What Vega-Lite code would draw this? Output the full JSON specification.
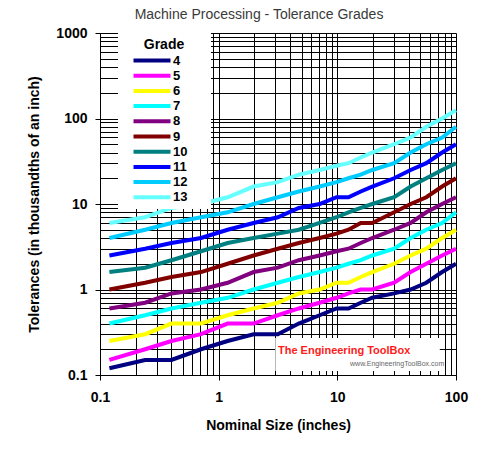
{
  "$schema": "https://vega.github.io/schema/vega-lite/v6.json",
  "width": 356,
  "height": 342,
  "autosize": {"type": "none"},
  "padding": {"left": 100, "top": 33, "right": 36, "bottom": 88},
  "background": "white",
  "title": {
    "text": "Machine Processing - Tolerance Grades",
    "font": "Liberation Sans",
    "fontSize": 14,
    "fontWeight": "normal",
    "color": "#3a3a3a",
    "anchor": "middle",
    "dx": -19,
    "offset": 4
  },
  "config": {
    "view": {"stroke": null},
    "font": "Liberation Sans",
    "axis": {
      "domainColor": "black",
      "domainWidth": 1,
      "tickColor": "black",
      "tickSize": 5,
      "tickWidth": 1,
      "gridColor": "black",
      "gridOpacity": 1,
      "gridWidth": 1,
      "labelFont": "Liberation Sans",
      "labelFontSize": 14,
      "labelFontWeight": "bold",
      "labelColor": "black",
      "labelFlush": false,
      "labelOverlap": false,
      "labelBound": false,
      "titleFont": "Liberation Sans",
      "titleFontSize": 14,
      "titleFontWeight": "bold",
      "titleColor": "black"
    }
  },
  "datasets": {
    "tolerances": [
      {"size": 0.12, "grade": 4, "tol": 0.12}, {"size": 0.24, "grade": 4, "tol": 0.15}, {"size": 0.4, "grade": 4, "tol": 0.15}, {"size": 0.71, "grade": 4, "tol": 0.2}, {"size": 1.19, "grade": 4, "tol": 0.25}, {"size": 1.97, "grade": 4, "tol": 0.3}, {"size": 3.15, "grade": 4, "tol": 0.3}, {"size": 4.73, "grade": 4, "tol": 0.4}, {"size": 7.09, "grade": 4, "tol": 0.5}, {"size": 9.85, "grade": 4, "tol": 0.6}, {"size": 12.41, "grade": 4, "tol": 0.6}, {"size": 15.75, "grade": 4, "tol": 0.7}, {"size": 19.69, "grade": 4, "tol": 0.8}, {"size": 30.09, "grade": 4, "tol": 0.9}, {"size": 41.49, "grade": 4, "tol": 1.0}, {"size": 56.19, "grade": 4, "tol": 1.2}, {"size": 76.39, "grade": 4, "tol": 1.6}, {"size": 100, "grade": 4, "tol": 2.0},
      {"size": 0.12, "grade": 5, "tol": 0.15}, {"size": 0.24, "grade": 5, "tol": 0.2}, {"size": 0.4, "grade": 5, "tol": 0.25}, {"size": 0.71, "grade": 5, "tol": 0.3}, {"size": 1.19, "grade": 5, "tol": 0.4}, {"size": 1.97, "grade": 5, "tol": 0.4}, {"size": 3.15, "grade": 5, "tol": 0.5}, {"size": 4.73, "grade": 5, "tol": 0.6}, {"size": 7.09, "grade": 5, "tol": 0.7}, {"size": 9.85, "grade": 5, "tol": 0.8}, {"size": 12.41, "grade": 5, "tol": 0.9}, {"size": 15.75, "grade": 5, "tol": 1.0}, {"size": 19.69, "grade": 5, "tol": 1.0}, {"size": 30.09, "grade": 5, "tol": 1.2}, {"size": 41.49, "grade": 5, "tol": 1.6}, {"size": 56.19, "grade": 5, "tol": 2.0}, {"size": 76.39, "grade": 5, "tol": 2.5}, {"size": 100, "grade": 5, "tol": 3.0},
      {"size": 0.12, "grade": 6, "tol": 0.25}, {"size": 0.24, "grade": 6, "tol": 0.3}, {"size": 0.4, "grade": 6, "tol": 0.4}, {"size": 0.71, "grade": 6, "tol": 0.4}, {"size": 1.19, "grade": 6, "tol": 0.5}, {"size": 1.97, "grade": 6, "tol": 0.6}, {"size": 3.15, "grade": 6, "tol": 0.7}, {"size": 4.73, "grade": 6, "tol": 0.9}, {"size": 7.09, "grade": 6, "tol": 1.0}, {"size": 9.85, "grade": 6, "tol": 1.2}, {"size": 12.41, "grade": 6, "tol": 1.2}, {"size": 15.75, "grade": 6, "tol": 1.4}, {"size": 19.69, "grade": 6, "tol": 1.6}, {"size": 30.09, "grade": 6, "tol": 2.0}, {"size": 41.49, "grade": 6, "tol": 2.5}, {"size": 56.19, "grade": 6, "tol": 3.0}, {"size": 76.39, "grade": 6, "tol": 4.0}, {"size": 100, "grade": 6, "tol": 5.0},
      {"size": 0.12, "grade": 7, "tol": 0.4}, {"size": 0.24, "grade": 7, "tol": 0.5}, {"size": 0.4, "grade": 7, "tol": 0.6}, {"size": 0.71, "grade": 7, "tol": 0.7}, {"size": 1.19, "grade": 7, "tol": 0.8}, {"size": 1.97, "grade": 7, "tol": 1.0}, {"size": 3.15, "grade": 7, "tol": 1.2}, {"size": 4.73, "grade": 7, "tol": 1.4}, {"size": 7.09, "grade": 7, "tol": 1.6}, {"size": 9.85, "grade": 7, "tol": 1.8}, {"size": 12.41, "grade": 7, "tol": 2.0}, {"size": 15.75, "grade": 7, "tol": 2.2}, {"size": 19.69, "grade": 7, "tol": 2.5}, {"size": 30.09, "grade": 7, "tol": 3.0}, {"size": 41.49, "grade": 7, "tol": 4.0}, {"size": 56.19, "grade": 7, "tol": 5.0}, {"size": 76.39, "grade": 7, "tol": 6.0}, {"size": 100, "grade": 7, "tol": 8.0},
      {"size": 0.12, "grade": 8, "tol": 0.6}, {"size": 0.24, "grade": 8, "tol": 0.7}, {"size": 0.4, "grade": 8, "tol": 0.9}, {"size": 0.71, "grade": 8, "tol": 1.0}, {"size": 1.19, "grade": 8, "tol": 1.2}, {"size": 1.97, "grade": 8, "tol": 1.6}, {"size": 3.15, "grade": 8, "tol": 1.8}, {"size": 4.73, "grade": 8, "tol": 2.2}, {"size": 7.09, "grade": 8, "tol": 2.5}, {"size": 9.85, "grade": 8, "tol": 2.8}, {"size": 12.41, "grade": 8, "tol": 3.0}, {"size": 15.75, "grade": 8, "tol": 3.5}, {"size": 19.69, "grade": 8, "tol": 4.0}, {"size": 30.09, "grade": 8, "tol": 5.0}, {"size": 41.49, "grade": 8, "tol": 6.0}, {"size": 56.19, "grade": 8, "tol": 8.0}, {"size": 76.39, "grade": 8, "tol": 10}, {"size": 100, "grade": 8, "tol": 12},
      {"size": 0.12, "grade": 9, "tol": 1.0}, {"size": 0.24, "grade": 9, "tol": 1.2}, {"size": 0.4, "grade": 9, "tol": 1.4}, {"size": 0.71, "grade": 9, "tol": 1.6}, {"size": 1.19, "grade": 9, "tol": 2.0}, {"size": 1.97, "grade": 9, "tol": 2.5}, {"size": 3.15, "grade": 9, "tol": 3.0}, {"size": 4.73, "grade": 9, "tol": 3.5}, {"size": 7.09, "grade": 9, "tol": 4.0}, {"size": 9.85, "grade": 9, "tol": 4.5}, {"size": 12.41, "grade": 9, "tol": 5.0}, {"size": 15.75, "grade": 9, "tol": 6.0}, {"size": 19.69, "grade": 9, "tol": 6.0}, {"size": 30.09, "grade": 9, "tol": 8.0}, {"size": 41.49, "grade": 9, "tol": 10}, {"size": 56.19, "grade": 9, "tol": 12}, {"size": 76.39, "grade": 9, "tol": 16}, {"size": 100, "grade": 9, "tol": 20},
      {"size": 0.12, "grade": 10, "tol": 1.6}, {"size": 0.24, "grade": 10, "tol": 1.8}, {"size": 0.4, "grade": 10, "tol": 2.2}, {"size": 0.71, "grade": 10, "tol": 2.8}, {"size": 1.19, "grade": 10, "tol": 3.5}, {"size": 1.97, "grade": 10, "tol": 4.0}, {"size": 3.15, "grade": 10, "tol": 4.5}, {"size": 4.73, "grade": 10, "tol": 5.0}, {"size": 7.09, "grade": 10, "tol": 6.0}, {"size": 9.85, "grade": 10, "tol": 7.0}, {"size": 12.41, "grade": 10, "tol": 8.0}, {"size": 15.75, "grade": 10, "tol": 9.0}, {"size": 19.69, "grade": 10, "tol": 10}, {"size": 30.09, "grade": 10, "tol": 12}, {"size": 41.49, "grade": 10, "tol": 16}, {"size": 56.19, "grade": 10, "tol": 20}, {"size": 76.39, "grade": 10, "tol": 25}, {"size": 100, "grade": 10, "tol": 30},
      {"size": 0.12, "grade": 11, "tol": 2.5}, {"size": 0.24, "grade": 11, "tol": 3.0}, {"size": 0.4, "grade": 11, "tol": 3.5}, {"size": 0.71, "grade": 11, "tol": 4.0}, {"size": 1.19, "grade": 11, "tol": 5.0}, {"size": 1.97, "grade": 11, "tol": 6.0}, {"size": 3.15, "grade": 11, "tol": 7.0}, {"size": 4.73, "grade": 11, "tol": 9.0}, {"size": 7.09, "grade": 11, "tol": 10}, {"size": 9.85, "grade": 11, "tol": 12}, {"size": 12.41, "grade": 11, "tol": 12}, {"size": 15.75, "grade": 11, "tol": 14}, {"size": 19.69, "grade": 11, "tol": 16}, {"size": 30.09, "grade": 11, "tol": 20}, {"size": 41.49, "grade": 11, "tol": 25}, {"size": 56.19, "grade": 11, "tol": 30}, {"size": 76.39, "grade": 11, "tol": 40}, {"size": 100, "grade": 11, "tol": 50},
      {"size": 0.12, "grade": 12, "tol": 4}, {"size": 0.24, "grade": 12, "tol": 5}, {"size": 0.4, "grade": 12, "tol": 6}, {"size": 0.71, "grade": 12, "tol": 7}, {"size": 1.19, "grade": 12, "tol": 8}, {"size": 1.97, "grade": 12, "tol": 10}, {"size": 3.15, "grade": 12, "tol": 12}, {"size": 4.73, "grade": 12, "tol": 14}, {"size": 7.09, "grade": 12, "tol": 16}, {"size": 9.85, "grade": 12, "tol": 18}, {"size": 12.41, "grade": 12, "tol": 20}, {"size": 15.75, "grade": 12, "tol": 22}, {"size": 19.69, "grade": 12, "tol": 25}, {"size": 30.09, "grade": 12, "tol": 30}, {"size": 41.49, "grade": 12, "tol": 40}, {"size": 56.19, "grade": 12, "tol": 50}, {"size": 76.39, "grade": 12, "tol": 60}, {"size": 100, "grade": 12, "tol": 80},
      {"size": 0.12, "grade": 13, "tol": 6}, {"size": 0.24, "grade": 13, "tol": 7}, {"size": 0.4, "grade": 13, "tol": 9}, {"size": 0.71, "grade": 13, "tol": 10}, {"size": 1.19, "grade": 13, "tol": 12}, {"size": 1.97, "grade": 13, "tol": 16}, {"size": 3.15, "grade": 13, "tol": 18}, {"size": 4.73, "grade": 13, "tol": 22}, {"size": 7.09, "grade": 13, "tol": 25}, {"size": 9.85, "grade": 13, "tol": 28}, {"size": 12.41, "grade": 13, "tol": 30}, {"size": 15.75, "grade": 13, "tol": 35}, {"size": 19.69, "grade": 13, "tol": 40}, {"size": 30.09, "grade": 13, "tol": 50}, {"size": 41.49, "grade": 13, "tol": 60}, {"size": 56.19, "grade": 13, "tol": 80}, {"size": 76.39, "grade": 13, "tol": 100}, {"size": 100, "grade": 13, "tol": 125}
    ]
  },
  "layer": [
    {
      "data": {"name": "tolerances"},
      "mark": {"type": "line", "strokeWidth": 4, "interpolate": "linear"},
      "encoding": {
        "x": {
          "field": "size",
          "type": "quantitative",
          "scale": {"type": "log", "domain": [0.1, 100]},
          "axis": {
            "title": "Nominal Size (inches)",
            "grid": true,
            "domain": true,
            "ticks": true,
            "values": [0.1, 0.2, 0.3, 0.4, 0.5, 0.6, 0.7, 0.8, 0.9, 1, 2, 3, 4, 5, 6, 7, 8, 9, 10, 20, 30, 40, 50, 60, 70, 80, 90, 100],
            "labelExpr": "abs(log(datum.value) / LN10 - round(log(datum.value) / LN10)) < 0.001 ? format(datum.value, '~g') : ''",
            "tickOpacity": {"condition": {"test": "abs(log(datum.value) / LN10 - round(log(datum.value) / LN10)) < 0.001", "value": 1}, "value": 0},
            "labelPadding": 10,
            "titlePadding": 14
          }
        },
        "y": {
          "field": "tol",
          "type": "quantitative",
          "scale": {"type": "log", "domain": [0.1, 1000]},
          "axis": {
            "title": "Tolerances (in thousandths of an inch)",
            "grid": true,
            "domain": true,
            "ticks": true,
            "values": [0.1, 0.2, 0.3, 0.4, 0.5, 0.6, 0.7, 0.8, 0.9, 1, 2, 3, 4, 5, 6, 7, 8, 9, 10, 20, 30, 40, 50, 60, 70, 80, 90, 100, 200, 300, 400, 500, 600, 700, 800, 900, 1000],
            "labelExpr": "abs(log(datum.value) / LN10 - round(log(datum.value) / LN10)) < 0.001 ? format(datum.value, '~g') : ''",
            "tickOpacity": {"condition": {"test": "abs(log(datum.value) / LN10 - round(log(datum.value) / LN10)) < 0.001", "value": 1}, "value": 0},
            "labelPadding": 8,
            "titlePadding": 14
          }
        },
        "color": {
          "field": "grade",
          "type": "nominal",
          "scale": {
            "domain": [4, 5, 6, 7, 8, 9, 10, 11, 12, 13],
            "range": ["#000080", "#ff00ff", "#ffff00", "#00ffff", "#800080", "#800000", "#008080", "#0000ff", "#00ccff", "#66ffff"]
          },
          "legend": {
            "title": "Grade",
            "orient": "none",
            "legendX": 18,
            "legendY": -1,
            "fillColor": "white",
            "padding": 3,
            "titleFont": "Liberation Sans",
            "titleFontSize": 14,
            "titleFontWeight": "bold",
            "titleColor": "black",
            "titleAnchor": "middle",
            "titleBaseline": "line-top",
            "titleLineHeight": 20,
            "titlePadding": 5,
            "symbolType": "M-6,0H6",
            "symbolSize": 38,
            "symbolStrokeWidth": 4,
            "symbolOffset": 24.5,
            "labelFont": "Liberation Sans",
            "labelFontSize": 13,
            "labelFontWeight": "bold",
            "labelColor": "black",
            "labelOffset": 14.5,
            "rowPadding": -1.8,
            "labelExpr": "datum.label + '\u2800\u2800'"
          }
        }
      }
    },
    {
      "data": {"values": [{}]},
      "mark": {"type": "rect", "fill": "white"},
      "encoding": {
        "x": {"datum": 3, "type": "quantitative"},
        "x2": {"datum": 73},
        "y": {"datum": 0.27, "type": "quantitative"},
        "y2": {"datum": 0.111}
      }
    },
    {
      "data": {"values": [{}]},
      "mark": {"type": "text", "text": "The Engineering ToolBox", "align": "left", "baseline": "middle", "font": "Liberation Sans", "fontWeight": "bold", "fontSize": 11, "color": "#ff1a1a"},
      "encoding": {
        "x": {"datum": 3.16, "type": "quantitative"},
        "y": {"datum": 0.19, "type": "quantitative"}
      }
    },
    {
      "data": {"values": [{}]},
      "mark": {"type": "text", "text": "www.EngineeringToolBox.com", "align": "left", "baseline": "middle", "font": "Liberation Sans", "fontSize": 7, "color": "#666666"},
      "encoding": {
        "x": {"datum": 12.8, "type": "quantitative"},
        "y": {"datum": 0.135, "type": "quantitative"}
      }
    }
  ]
}
